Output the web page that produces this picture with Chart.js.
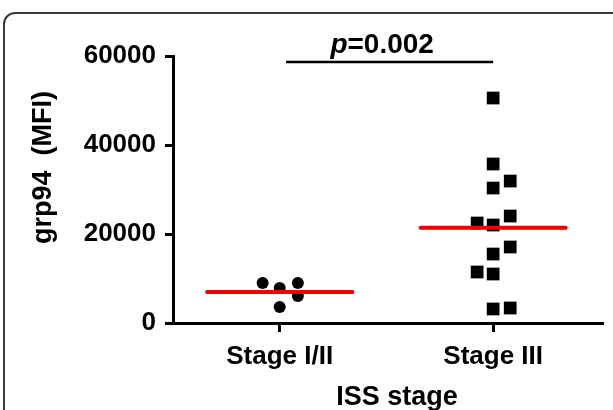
<!DOCTYPE html>
<html>
<head>
<meta charset="utf-8">
<script src="https://cdn.jsdelivr.net/npm/chart.js@4.4.1/dist/chart.umd.min.js"></script>
<style>
    html, body { margin: 0; padding: 0; background: #fff; overflow: hidden; }
    #wrap { position: relative; width: 613px; height: 410px; }
    #card {
        position: absolute; left: 3px; top: 12px;
        width: 660px; height: 460px;
        border: 2px solid #3a3a3a; border-radius: 12px;
    }
    #chartBox { position: absolute; left: 0; top: 0; width: 613px; height: 410px; }
</style>
</head>
<body>
<div id="wrap">
    <div id="card"></div>
    <div id="chartBox"><canvas id="grpChart"></canvas></div>
</div>
<script>
// Dados
const categorias = ['Stage I/II', 'Stage III'];
const yTicks = [0, 20000, 40000, 60000];

// Stage I/II (círculos)
const stage12Valores = [8990, 7870, 8990, 6070, 3600];
const stage12Jitter = [-0.08, 0, 0.085, 0.085, 0];

// Stage III (quadrados)
const stage3Valores = [50560, 35730, 31900, 30330, 24040, 22470, 22020, 17080, 15500, 11460, 11010, 3370, 3150];
const stage3Jitter = [0, 0, 0.08, 0, 0.08, -0.075, 0, 0.08, 0, -0.075, 0, 0.08, 0];

// Médias (linhas vermelhas)
const medias = [6970, 21380];
const meiaLargura = 0.34;

const pTexto = '=0.002';
const yTitulo = 'grp94  (MFI)';
const xTitulo = 'ISS stage';

const FONTE = '"Liberation Sans", Arial, sans-serif';

function pontos(valores, jitter, pos) {
    return valores.map((v, i) => ({ x: pos + jitter[i], y: v }));
}

// Plugin para títulos e marcação do p-valor
const anotacoes = {
    id: 'anotacoes',
    afterDraw(chart) {
        const ctx = chart.ctx;
        const x = chart.scales.x;
        const y = chart.scales.y;
        ctx.save();
        ctx.fillStyle = '#000';

        // título do eixo y
        ctx.save();
        ctx.translate(44, (y.top + y.bottom) / 2 - 22);
        ctx.rotate(-Math.PI / 2);
        ctx.font = 'bold 27px ' + FONTE;
        ctx.textAlign = 'center';
        ctx.textBaseline = 'middle';
        ctx.fillText(yTitulo, 0, 0);
        ctx.restore();

        // título do eixo x
        ctx.font = 'bold 27px ' + FONTE;
        ctx.textAlign = 'center';
        ctx.textBaseline = 'middle';
        ctx.fillText(xTitulo, x.getPixelForValue(1.55), 398);

        // barra do p-valor
        const yBar = y.top + 6;
        ctx.strokeStyle = '#000';
        ctx.lineWidth = 2.5;
        ctx.beginPath();
        ctx.moveTo(x.getPixelForValue(1.03), yBar);
        ctx.lineTo(x.getPixelForValue(2), yBar);
        ctx.stroke();

        // texto p=0.002 (p em itálico)
        ctx.textAlign = 'left';
        ctx.textBaseline = 'alphabetic';
        ctx.font = 'italic bold 28px ' + FONTE;
        const wp = ctx.measureText('p').width;
        ctx.font = 'bold 28px ' + FONTE;
        const wr = ctx.measureText(pTexto).width;
        const cx = x.getPixelForValue(1.48);
        const x0 = cx - (wp + wr) / 2;
        ctx.font = 'italic bold 28px ' + FONTE;
        ctx.fillText('p', x0, 53);
        ctx.font = 'bold 28px ' + FONTE;
        ctx.fillText(pTexto, x0 + wp, 53);
        ctx.restore();
    }
};

document.addEventListener('DOMContentLoaded', function() {
    const ctx = document.getElementById('grpChart').getContext('2d');

    new Chart(ctx, {
        type: 'scatter',
        data: {
            datasets: [{
                label: categorias[0],
                data: pontos(stage12Valores, stage12Jitter, 1),
                pointStyle: 'circle',
                pointRadius: 6,
                pointHoverRadius: 6,
                backgroundColor: '#000',
                borderColor: '#000',
                borderWidth: 0,
                order: 2
            }, {
                label: categorias[1],
                data: pontos(stage3Valores, stage3Jitter, 2),
                pointStyle: 'rect',
                pointRadius: 9,
                pointHoverRadius: 9,
                backgroundColor: '#000',
                borderColor: '#000',
                borderWidth: 0,
                order: 2
            }, {
                type: 'line',
                label: 'média I/II',
                data: [{ x: 1 - meiaLargura, y: medias[0] }, { x: 1 + meiaLargura, y: medias[0] }],
                borderColor: '#ee0000',
                borderWidth: 4,
                borderCapStyle: 'round',
                pointRadius: 0,
                showLine: true,
                order: 1
            }, {
                type: 'line',
                label: 'média III',
                data: [{ x: 2 - meiaLargura, y: medias[1] }, { x: 2 + meiaLargura, y: medias[1] }],
                borderColor: '#ee0000',
                borderWidth: 4,
                borderCapStyle: 'round',
                pointRadius: 0,
                showLine: true,
                order: 1
            }]
        },
        options: {
            responsive: true,
            maintainAspectRatio: false,
            animation: false,
            layout: {
                padding: { left: 0, top: 56, right: 11, bottom: 0 }
            },
            plugins: {
                legend: { display: false },
                tooltip: { enabled: false }
            },
            scales: {
                x: {
                    type: 'linear',
                    min: 0.5,
                    max: 2.51,
                    afterBuildTicks: (scale) => {
                        scale.ticks = categorias.map((c, i) => ({ value: i + 1 }));
                    },
                    afterFit: (scale) => { scale.height = 87; },
                    ticks: {
                        color: '#000',
                        font: { family: FONTE, size: 26, weight: 'bold' },
                        padding: 9,
                        maxRotation: 0,
                        autoSkip: false,
                        callback: (v) => categorias[v - 1] || ''
                    },
                    grid: {
                        display: true,
                        drawOnChartArea: false,
                        drawTicks: true,
                        tickLength: 9,
                        color: '#000',
                        lineWidth: 3
                    },
                    border: { display: true, color: '#000', width: 3 }
                },
                y: {
                    min: 0,
                    max: 60000,
                    afterBuildTicks: (scale) => {
                        scale.ticks = yTicks.map(v => ({ value: v }));
                    },
                    afterFit: (scale) => { scale.width = 173; },
                    ticks: {
                        color: '#000',
                        font: { family: FONTE, size: 26, weight: 'bold' },
                        padding: 9,
                        callback: (v) => String(v)
                    },
                    grid: {
                        display: true,
                        drawOnChartArea: false,
                        drawTicks: true,
                        tickLength: 8,
                        color: '#000',
                        lineWidth: 3
                    },
                    border: { display: true, color: '#000', width: 3 }
                }
            }
        },
        plugins: [anotacoes]
    });
});
</script>
</body>
</html>
